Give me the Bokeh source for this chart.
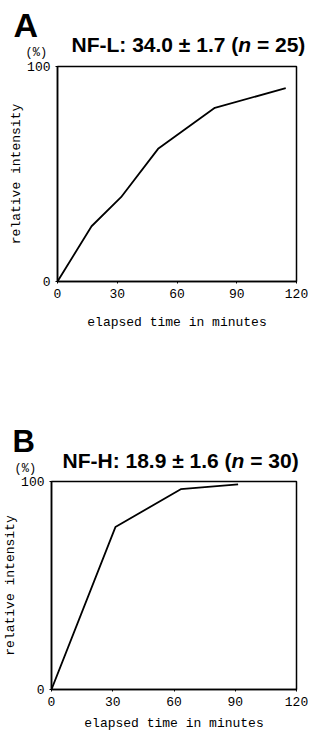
from bokeh.plotting import figure
from bokeh.models import Range1d, FixedTicker
from bokeh.layouts import column
from bokeh.core.properties import value
from bokeh.embed import file_html
from bokeh.resources import INLINE

# ---- data ----
time_a = [0, 17.1, 31.9, 50.5, 79.0, 114.6]
intensity_a = [0, 25.7, 39.2, 61.7, 80.8, 89.9]
time_b = [0, 31.3, 63.3, 91.4]
intensity_b = [0, 78.1, 96.3, 98.6]
x_ticks = [0, 30, 60, 90, 120]
y_ticks = [0, 100]
title_a = ["NF-L: 34.0 ± 1.7 (", "n", " = 25)"]
title_b = ["NF-H: 18.9 ± 1.6 (", "n", " = 30)"]
letters = ["A", "B"]
x_label = "elapsed time in minutes"
y_label = "relative intensity"
unit_label = "(%)"

MONO = "Liberation Mono"
SANS = "Liberation Sans"
TITLE_SIZE = 21
W_PAGE = 308
SANS_DESC = 0.212   # descent (em) of Liberation Sans
MONO_DESC = 0.300   # descent (em) of Liberation Mono

# advance widths (em) of Liberation Sans Bold, used to chain the title pieces
W = {c: 0.556 for c in "0123456789"}
W.update({".": 0.278, " ": 0.278, ":": 0.333, "-": 0.333, "N": 0.722, "F": 0.611,
          "L": 0.611, "H": 0.722, "±": 0.549, "(": 0.333, ")": 0.333, "=": 0.584, "n": 0.611})


def tw(s, size):
    return sum(W.get(c, 0.6) for c in s) * size


def header(height, letter, letter_pos, letter_size, title, title_pos, unit_pos):
    h = figure(width=W_PAGE, height=height, output_backend="svg", toolbar_location=None,
               x_range=Range1d(0, W_PAGE), y_range=Range1d(height, 0), min_border=0,
               x_axis_location=None, y_axis_location=None)
    h.grid.visible = False
    h.outline_line_color = None
    # positions below are given as baselines; glyphs are anchored at their bottom
    h.text(x=[letter_pos[0]], y=[letter_pos[1] + SANS_DESC * letter_size], text=[letter],
           text_font=value(SANS), text_font_style="bold", text_font_size=f"{letter_size}px",
           text_color="black", text_baseline="bottom")
    x0 = title_pos[0]
    for piece, st in zip(title, ["bold", "bold italic", "bold"]):
        lead = len(piece) - len(piece.lstrip(" "))
        x0 += tw(" " * lead, TITLE_SIZE)
        body = piece.lstrip(" ")
        h.text(x=[x0], y=[title_pos[1] + SANS_DESC * TITLE_SIZE], text=[body],
               text_font=value(SANS), text_font_style=st, text_font_size=f"{TITLE_SIZE}px",
               text_color="black", text_baseline="bottom")
        x0 += tw(body, TITLE_SIZE)
    h.text(x=[unit_pos[0]], y=[unit_pos[1] + MONO_DESC * 12], text=[unit_label],
           text_font=value(MONO), text_font_size="12px", text_color="black",
           text_baseline="bottom")
    return h


def panel(xs, ys, height, mb, xlab_standoff, ylab_standoff):
    p = figure(width=W_PAGE, height=height, output_backend="svg", toolbar_location=None,
               x_range=Range1d(0, 120), y_range=Range1d(0, 100),
               min_border_left=mb[0], min_border_right=mb[1],
               min_border_top=mb[2], min_border_bottom=mb[3])
    p.grid.visible = False
    p.outline_line_color = "black"
    p.outline_line_width = 1.5

    p.line(xs, ys, line_color="black", line_width=1.8)

    for ax in (p.xaxis[0], p.yaxis[0]):
        ax.axis_line_color = "black"
        ax.axis_line_width = 1.5
        ax.major_tick_out = 2
        ax.major_tick_in = 0
        ax.minor_tick_line_color = None
        ax.major_label_text_font = MONO
        ax.major_label_text_font_size = "13px"
        ax.major_label_text_color = "black"
        ax.axis_label_text_font = MONO
        ax.axis_label_text_font_size = "13px"
        ax.axis_label_text_font_style = "normal"
        ax.axis_label_text_color = "black"
    p.xaxis.ticker = FixedTicker(ticks=x_ticks)
    p.yaxis.ticker = FixedTicker(ticks=y_ticks)
    p.xaxis.axis_label = x_label
    p.yaxis.axis_label = y_label
    p.xaxis.major_label_standoff = 5
    p.xaxis.axis_label_standoff = xlab_standoff
    p.yaxis.major_label_standoff = 5
    p.yaxis.axis_label_standoff = ylab_standoff
    return p


ha = header(60, letters[0], (13, 36), 34, title_a, (71, 51), (25, 56))
pa = panel(time_a, intensity_a, 355, (57, 12, 6, 134), 14, 0)
hb = header(60, letters[1], (12, 37), 31, title_b, (62, 52), (14, 57))
pb = panel(time_b, intensity_b, 258, (50, 12, 6, 44), 7, 0)

layout = column(column(ha), column(pa), column(hb), column(pb), spacing=0)
open("out.html", "w").write(file_html(layout, INLINE))
